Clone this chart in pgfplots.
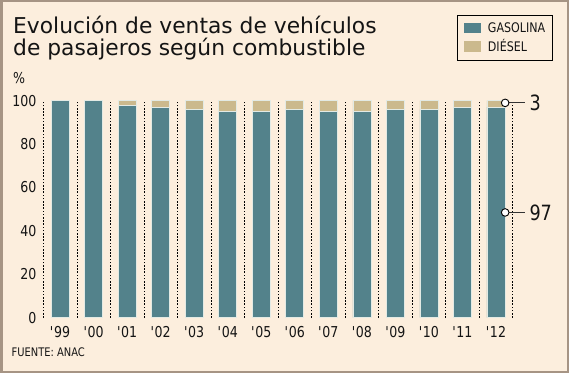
\documentclass[border=0pt]{standalone}
\usepackage{fontspec}
\setmainfont{DejaVu Sans}
\newfontfamily\cond{DejaVu Sans}[FakeStretch=0.84]
\usepackage{pgfplots}
\usepackage{pgfplotstable}
\pgfplotsset{compat=1.18}
\definecolor{bgc}{HTML}{FCEEDD}
\definecolor{gasc}{HTML}{53828B}
\definecolor{diec}{HTML}{CBB98D}
\definecolor{framec}{HTML}{A69484}
\definecolor{txt}{HTML}{141414}
\definecolor{edgec}{HTML}{E3EAE4}

\pgfplotstableread{
x gas die
0 100 0
1 100 0
2 98 2
3 97 3
4 96 4
5 95 5
6 95 5
7 96 4
8 95 5
9 95 5
10 96 4
11 96 4
12 97 3
13 97 3
}\datatable

\begin{document}
\begin{tikzpicture}[x=1bp,y=1bp]
\useasboundingbox (0,0) rectangle (569,373);
\fill[bgc] (0,0) rectangle (569,373);
\draw[framec, line width=2.5bp] (1.25,1.25) rectangle (567.75,371.75);
\node[anchor=base west, inner sep=0pt, font=\fontsize{21.8bp}{21.8bp}\selectfont, text=txt] at (13,339.7) {Evolución de ventas de vehículos};
\node[anchor=base west, inner sep=0pt, font=\fontsize{21.8bp}{21.8bp}\selectfont, text=txt] at (13,318) {de pasajeros según combustible};
\node[anchor=base west, inner sep=0pt, font=\cond\fontsize{15bp}{15bp}\selectfont, text=txt] at (13,289.5) {\%};
\node[anchor=base west, inner sep=0pt, font=\cond\fontsize{11.8bp}{11.8bp}\selectfont, text=txt] at (11.5,16.3) {FUENTE: ANAC};

\begin{axis}[
  at={(43.3bp,55.3bp)}, anchor=south west, scale only axis,
  width=469.4bp, height=217bp,
  xmin=-0.5, xmax=13.5, ymin=0, ymax=100,
  axis line style={draw=none},
  major tick length=0pt, minor tick length=0pt,
  ytick={0,20,...,100},
  xtick={0,...,13},
  xticklabels={\textquotesingle99,\textquotesingle00,\textquotesingle01,\textquotesingle02,\textquotesingle03,\textquotesingle04,\textquotesingle05,\textquotesingle06,\textquotesingle07,\textquotesingle08,\textquotesingle09,\textquotesingle10,\textquotesingle11,\textquotesingle12},
  minor xtick={-0.5,0.5,...,13.5},
  xminorgrids,
  minor grid style={black, line width=0.6bp, dash pattern=on 1.6bp off 1.6bp},
  ticklabel style={font=\cond\fontsize{15bp}{15bp}\selectfont, text=txt, inner sep=0pt},
  yticklabel style={xshift=-6.6bp},
  xticklabel style={yshift=-8.5bp},
  /pgf/number format/assume math mode=true,
  ybar stacked, bar width=0.537,
  clip=false,
  legend style={at={(1.0844,1.395)}, anchor=north east, draw=black, line width=0.8bp, fill=none,
    font=\cond\fontsize{13.2bp}{13.2bp}\selectfont, text=txt,
    inner xsep=6.7bp, inner ysep=7bp, row sep=6bp, column sep=6.6bp,
    nodes={inner sep=0pt}},
  legend cell align=left,
  legend image code/.code={\fill[#1, draw=none] (0bp,-5.3bp) rectangle (17.7bp,5.3bp);},
]
\addplot[fill=gasc, draw=edgec, line width=0.6bp] table[x=x, y=gas] {\datatable};
\addplot[fill=diec, draw=edgec, line width=0.6bp] table[x=x, y=die] {\datatable};
\legend{GASOLINA, DIÉSEL}
\end{axis}

\begin{axis}[
  at={(43.3bp,55.3bp)}, anchor=south west, scale only axis,
  width=469.4bp, height=217bp,
  xmin=-0.5, xmax=13.5, ymin=0, ymax=100,
  hide axis, clip=false,
]
\draw[black!80, line width=0.8bp] (axis cs:13.275,99) -- (axis cs:13.87,99) node[anchor=west, inner sep=0pt, xshift=4bp, font=\cond\fontsize{21bp}{21bp}\selectfont, text=txt] {3};
\draw[black!80, line width=0.8bp] (axis cs:13.275,48.5) -- (axis cs:13.87,48.5) node[anchor=west, inner sep=0pt, xshift=4bp, font=\cond\fontsize{21bp}{21bp}\selectfont, text=txt] {97};
\addplot[only marks, mark=*, mark size=3.8bp, mark options={fill=white, draw=black, line width=0.9bp}] coordinates {(13.275,99) (13.275,48.5)};
\end{axis}
\end{tikzpicture}
\end{document}
